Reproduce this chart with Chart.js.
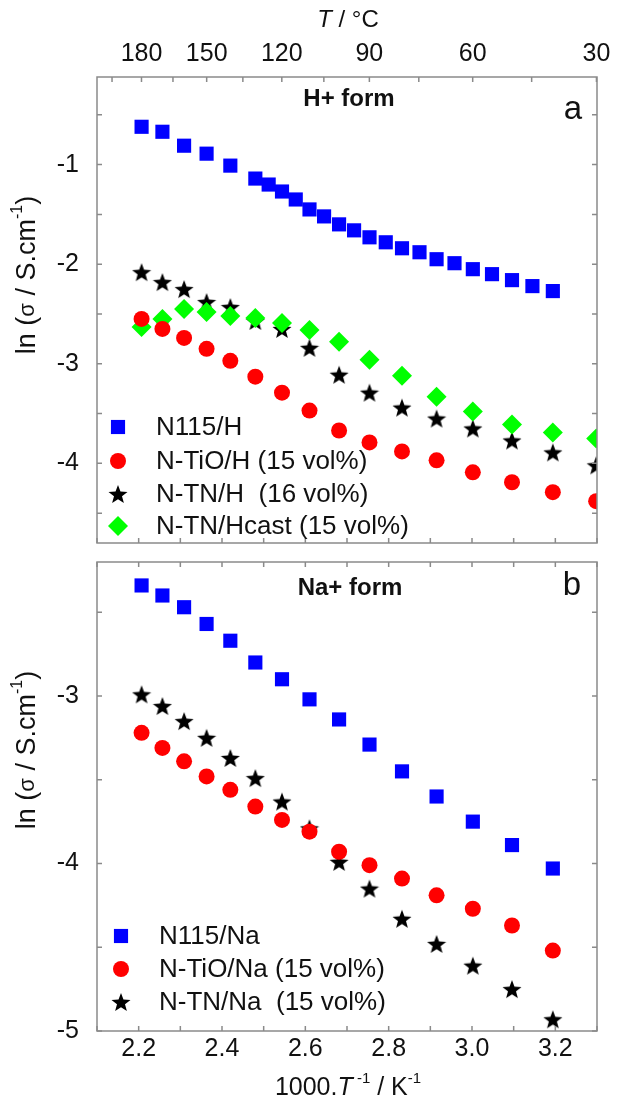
<!DOCTYPE html>
<html>
<head>
<meta charset="utf-8">
<script src="https://cdn.jsdelivr.net/npm/chart.js@4.4.1/dist/chart.umd.min.js"></script>
<style>
  html, body { margin: 0; padding: 0; background: #fff; }
  #wrap { position: relative; width: 618px; height: 1106px; }
  canvas { position: absolute; left: 0; }
  #topChart { top: 0; }
  #bottomChart { top: 552px; }
</style>
</head>
<body>
<div id="wrap">
  <canvas id="topChart" width="618" height="553"></canvas>
  <canvas id="bottomChart" width="618" height="554"></canvas>
</div>
<script>
const xH = [2.207, 2.257, 2.309, 2.363, 2.420, 2.480, 2.544, 2.610, 2.681, 2.754, 2.832, 2.915, 3.002, 3.096, 3.194, 3.298];
const xBlueH = [2.207, 2.257, 2.309, 2.363, 2.420, 2.480, 2.512, 2.544, 2.577, 2.610, 2.645, 2.681, 2.717, 2.754, 2.793, 2.832,
                2.874, 2.915, 2.958, 3.002, 3.048, 3.096, 3.145, 3.194];
const xNa = [2.207, 2.257, 2.309, 2.363, 2.420, 2.480, 2.544, 2.610, 2.681, 2.754, 2.832, 2.915, 3.002, 3.096, 3.194];

// panel a, H+ form : ln(sigma / S.cm-1)
const n115H = [-0.62, -0.67, -0.81, -0.89, -1.01, -1.14, -1.20, -1.27, -1.35, -1.45, -1.52, -1.60, -1.66, -1.73, -1.78, -1.84,
               -1.88, -1.95, -1.99, -2.05, -2.10, -2.16, -2.22, -2.27];
const tioH = [-2.55, -2.65, -2.74, -2.85, -2.97, -3.13, -3.29, -3.47, -3.67, -3.79, -3.88, -3.97, -4.09, -4.19, -4.29, -4.38];
const tnH = [-2.08, -2.18, -2.25, -2.38, -2.43, -2.57, -2.65, -2.84, -3.11, -3.29, -3.44, -3.55, -3.65, -3.77, -3.89, -4.02];
const tnHcast = [-2.63, -2.55, -2.45, -2.48, -2.52, -2.54, -2.59, -2.66, -2.78, -2.96, -3.12, -3.33, -3.48, -3.61, -3.69, -3.75];

// panel b, Na+ form
const n115Na = [-2.34, -2.40, -2.47, -2.57, -2.67, -2.80, -2.90, -3.02, -3.14, -3.29, -3.45, -3.60, -3.75, -3.89, -4.03];
const tioNa = [-3.22, -3.31, -3.39, -3.48, -3.56, -3.66, -3.74, -3.81, -3.93, -4.01, -4.09, -4.19, -4.27, -4.37, -4.52];
const tnNa = [-2.99, -3.06, -3.15, -3.25, -3.37, -3.49, -3.63, -3.79, -3.99, -4.15, -4.33, -4.48, -4.61, -4.75, -4.93];

const labelsH = ['N115/H', 'N-TiO/H (15 vol%)', 'N-TN/H  (16 vol%)', 'N-TN/Hcast (15 vol%)'];
const labelsNa = ['N115/Na', 'N-TiO/Na (15 vol%)', 'N-TN/Na  (15 vol%)'];

// top axis in degrees C
const tempTicks = [195, 180, 165, 150, 135, 120, 105, 90, 75, 60, 45, 30];
const tempLabels = [180, 150, 120, 90, 60, 30];

const FONT = '"Liberation Sans", Arial, sans-serif';
Chart.defaults.font.family = FONT;
Chart.defaults.color = '#111';

function f(size, style) { return (style ? style + ' ' : '') + size + 'px ' + FONT; }

function pts(xs, ys) { return ys.map((y, i) => ({ x: xs[i], y: y })); }

// filled five point star used as point style
function makeStar(size) {
  const c = document.createElement('canvas');
  c.width = size; c.height = size;
  const g = c.getContext('2d');
  const r = size / 2, ri = r * 0.42;
  g.beginPath();
  for (let i = 0; i < 10; i++) {
    const a = -Math.PI / 2 + i * Math.PI / 5;
    const rr = i % 2 ? ri : r;
    g.lineTo(r + rr * Math.cos(a), r + 1 + rr * Math.sin(a));
  }
  g.closePath();
  g.fillStyle = '#000';
  g.fill();
  return c;
}
const star = makeStar(20);

function fixWidth(w) { return s => { s.width = w; s.paddingTop = 0; s.paddingBottom = 0; }; }
function fixHeight(h) { return s => { s.height = h; s.paddingLeft = 0; s.paddingRight = 0; }; }

// frame with inward ticks on all four sides
const frame = {
  id: 'frame',
  afterDatasetsDraw(chart) {
    const { ctx, chartArea: a, scales } = chart;
    const L = 5;
    ctx.save();
    ctx.strokeStyle = '#8a8a8a';
    ctx.lineWidth = 1.5;
    ctx.strokeRect(a.left, a.top, a.right - a.left, a.bottom - a.top);
    ctx.beginPath();
    const y = scales.y;
    for (let k = Math.ceil(y.min * 2); k <= Math.floor(y.max * 2); k++) {
      const py = y.getPixelForValue(k / 2);
      ctx.moveTo(a.left, py); ctx.lineTo(a.left + L, py);
      ctx.moveTo(a.right, py); ctx.lineTo(a.right - L, py);
    }
    const x = scales.x;
    for (let k = Math.ceil(x.min * 10 - 1e-6); k <= Math.floor(x.max * 10 + 1e-6); k++) {
      const px = x.getPixelForValue(k / 10);
      ctx.moveTo(px, a.bottom); ctx.lineTo(px, a.bottom - L);
      if (!scales.x2) { ctx.moveTo(px, a.top); ctx.lineTo(px, a.top + L); }
    }
    if (scales.x2) {
      scales.x2.ticks.forEach(t => {
        const px = scales.x2.getPixelForValue(t.value);
        ctx.moveTo(px, a.top); ctx.lineTo(px, a.top + L);
      });
    }
    ctx.stroke();
    ctx.restore();
  }
};

function drawMarker(ctx, ds, x, y) {
  const r = ds.pointRadius;
  ctx.fillStyle = ds.backgroundColor;
  if (ds.pointStyle === 'rect') {
    const s = r * Math.SQRT1_2;
    ctx.fillRect(x - s, y - s, 2 * s, 2 * s);
  } else if (ds.pointStyle === 'circle') {
    ctx.beginPath(); ctx.arc(x, y, r, 0, 2 * Math.PI); ctx.fill();
  } else if (ds.pointStyle === 'rectRot') {
    ctx.beginPath();
    ctx.moveTo(x - r, y); ctx.lineTo(x, y - r); ctx.lineTo(x + r, y); ctx.lineTo(x, y + r);
    ctx.closePath(); ctx.fill();
  } else {
    ctx.drawImage(ds.pointStyle, x - ds.pointStyle.width / 2, y - ds.pointStyle.height / 2);
  }
}

function makeLegend(markerX, textX, rowsY) {
  return {
    id: 'boxLegend',
    afterDraw(chart) {
      const ctx = chart.ctx;
      ctx.save();
      ctx.font = f(26);
      ctx.textBaseline = 'middle';
      ctx.textAlign = 'left';
      chart.data.datasets.forEach((ds, i) => {
        drawMarker(ctx, ds, markerX, rowsY[i]);
        ctx.fillStyle = '#111';
        ctx.fillText(ds.label, textX, rowsY[i] + 1);
      });
      ctx.restore();
    }
  };
}

function drawRich(ctx, parts, cx, cy) {
  let w = 0;
  parts.forEach(p => { ctx.font = p.f; w += ctx.measureText(p.t).width; });
  let x = cx - w / 2;
  ctx.textBaseline = 'middle';
  ctx.textAlign = 'left';
  parts.forEach(p => {
    ctx.font = p.f;
    ctx.fillText(p.t, x, cy + (p.dy || 0));
    x += ctx.measureText(p.t).width;
  });
}

function makeTexts(items) {
  return {
    id: 'texts',
    afterDraw(chart) {
      const ctx = chart.ctx;
      ctx.save();
      ctx.fillStyle = '#111';
      items.forEach(it => {
        ctx.save();
        ctx.translate(it.x, it.y);
        if (it.rot) ctx.rotate(-Math.PI / 2);
        drawRich(ctx, it.parts, 0, 0);
        ctx.restore();
      });
      ctx.restore();
    }
  };
}

const yTitle = [
  { t: 'ln (', f: f(27) }, { t: 'σ', f: f(22) }, { t: ' / S.cm', f: f(27) },
  { t: '-1', f: f(16), dy: -10 }, { t: ')', f: f(27) }
];

function yTicks() {
  return {
    stepSize: 0.5, padding: 10, font: { size: 25 },
    callback: v => Math.abs(v - Math.round(v)) < 1e-6 ? String(Math.round(v)) : ''
  };
}

const pointBase = { pointBorderWidth: 0, pointHoverRadius: 0, clip: 0, showLine: false };

// ---- panel a ----
new Chart(document.getElementById('topChart'), {
  type: 'scatter',
  data: {
    datasets: [
      Object.assign({ label: labelsH[0], data: pts(xBlueH, n115H), pointStyle: 'rect', pointRadius: 10, backgroundColor: '#0000ff', order: 3 }, pointBase),
      Object.assign({ label: labelsH[1], data: pts(xH, tioH), pointStyle: 'circle', pointRadius: 8, backgroundColor: '#ff0000', order: 0 }, pointBase),
      Object.assign({ label: labelsH[2], data: pts(xH, tnH), pointStyle: star, pointRadius: 9, backgroundColor: '#000000', order: 2 }, pointBase),
      Object.assign({ label: labelsH[3], data: pts(xH, tnHcast), pointStyle: 'rectRot', pointRadius: 10, backgroundColor: '#00ff00', order: 1 }, pointBase)
    ]
  },
  options: {
    responsive: false,
    animation: false,
    devicePixelRatio: 1,
    layout: { padding: { top: 0, right: 21, bottom: 1, left: 0 } },
    plugins: { legend: { display: false }, tooltip: { enabled: false } },
    scales: {
      x: { type: 'linear', min: 2.1, max: 3.3, display: false },
      x2: {
        type: 'linear', position: 'top', min: 2.1, max: 3.3,
        grid: { display: false }, border: { display: false },
        afterBuildTicks: s => { s.ticks = tempTicks.map(t => ({ value: 1000 / (t + 273.15) })); },
        ticks: {
          autoSkip: false, maxRotation: 0, padding: 0, font: { size: 25 },
          callback: v => { const t = Math.round(1000 / v - 273.15); return tempLabels.includes(t) ? String(t) : ''; }
        },
        afterFit: fixHeight(77)
      },
      y: {
        min: -4.8, max: -0.12,
        grid: { display: false }, border: { display: false },
        ticks: yTicks(),
        afterFit: fixWidth(97)
      }
    }
  },
  plugins: [
    frame,
    makeLegend(118, 156, [427, 461, 494, 526]),
    makeTexts([
      { x: 348, y: 20, parts: [{ t: 'T', f: f(24, 'italic') }, { t: ' / °C', f: f(24) }] },
      { x: 349, y: 99, parts: [{ t: 'H+ form', f: f(24, 'bold') }] },
      { x: 573, y: 110, parts: [{ t: 'a', f: f(33) }] },
      { x: 28, y: 275, rot: true, parts: yTitle }
    ])
  ]
});

// ---- panel b ----
new Chart(document.getElementById('bottomChart'), {
  type: 'scatter',
  data: {
    datasets: [
      Object.assign({ label: labelsNa[0], data: pts(xNa, n115Na), pointStyle: 'rect', pointRadius: 10, backgroundColor: '#0000ff', order: 2 }, pointBase),
      Object.assign({ label: labelsNa[1], data: pts(xNa, tioNa), pointStyle: 'circle', pointRadius: 8, backgroundColor: '#ff0000', order: 0 }, pointBase),
      Object.assign({ label: labelsNa[2], data: pts(xNa, tnNa), pointStyle: star, pointRadius: 9, backgroundColor: '#000000', order: 1 }, pointBase)
    ]
  },
  options: {
    responsive: false,
    animation: false,
    devicePixelRatio: 1,
    layout: { padding: { top: 0, right: 21, bottom: 0, left: 0 } },
    plugins: { legend: { display: false }, tooltip: { enabled: false } },
    scales: {
      x: {
        type: 'linear', min: 2.1, max: 3.3,
        grid: { display: false }, border: { display: false },
        ticks: {
          stepSize: 0.1, maxTicksLimit: 100, autoSkip: false, maxRotation: 0, padding: -5, font: { size: 25 },
          callback: v => Math.round(v * 10) % 2 === 0 ? v.toFixed(1) : ''
        },
        afterFit: fixHeight(75)
      },
      y: {
        min: -5, max: -2.2,
        grid: { display: false }, border: { display: false },
        ticks: yTicks(),
        afterFit: fixWidth(97)
      }
    }
  },
  plugins: [
    frame,
    makeLegend(121, 159, [384, 417, 450]),
    makeTexts([
      { x: 350, y: 36, parts: [{ t: 'Na+ form', f: f(24, 'bold') }] },
      { x: 572, y: 34, parts: [{ t: 'b', f: f(33) }] },
      { x: 28, y: 198, rot: true, parts: yTitle },
      { x: 348, y: 536, parts: [
        { t: '1000.', f: f(25) }, { t: 'T', f: f(25, 'italic') }, { t: ' -1', f: f(15), dy: -9 },
        { t: ' / K', f: f(25) }, { t: '-1', f: f(15), dy: -9 }
      ] }
    ])
  ]
});
</script>
</body>
</html>
